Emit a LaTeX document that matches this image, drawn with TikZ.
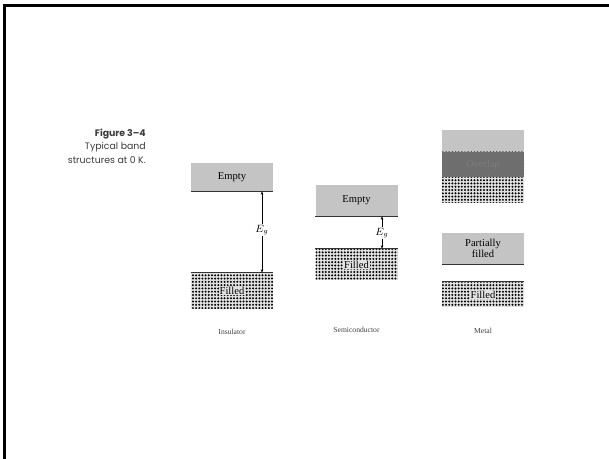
\documentclass[tikz,border=0pt]{standalone}
\usepackage{fontspec}
\setmainfont{Liberation Serif}
\newfontfamily\titlefont{Poppins}
\usetikzlibrary{arrows.meta,patterns.meta}

\definecolor{bandgray}{HTML}{C4C4C4}
\definecolor{overlapgray}{HTML}{6E6E6E}
\definecolor{dotbg}{HTML}{E2E2E2}
\definecolor{titlegray}{HTML}{3A3A3A}

\tikzdeclarepattern{
  name=banddots,
  type=uncolored,
  bottom left={(-1.35pt,-1.4pt)},
  top right={(1.35pt,1.4pt)},
  tile size={(2.7pt,2.8pt)},
  code={\fill (0pt,0pt) circle (0.95pt);}
}

\begin{document}
\begin{tikzpicture}[
      x=0.03cm, y=-0.03cm,
      emptyband/.style={fill=bandgray, minimum width=2.46cm, inner sep=0pt,
        font=\fontsize{9}{9.5}\selectfont, align=center},
      filledband/.style={preaction={fill=dotbg}, pattern=banddots,
        pattern color=black, minimum width=2.46cm, inner sep=0pt},
      dotlabel/.style={fill=dotbg, inner sep=0.6pt, font=\fontsize{9}{10}\selectfont},
      edgeline/.style={line width=1.1pt, black!80},
      gaplabel/.style={fill=white, inner sep=1pt, font=\fontsize{9}{10}\selectfont},
      caption/.style={font=\fontsize{6.5}{7}\selectfont, text=black!75},
      >={Stealth[length=3pt,width=2.2pt]}
    ]
    \useasboundingbox (0,0) rectangle (609,459);
    % frame
    \draw[line width=2.5pt] (4.5,459) -- (4.5,5.5) -- (609,5.5);

    % figure title
    \node[anchor=north east, align=right, inner sep=0pt, text=titlegray,
      font=\titlefont\fontsize{8}{11.3}\selectfont] (title) at (146,129)
      {\textbf{Figure 3–4}\\Typical band\\structures at 0 K.};

    % insulator
    \node[emptyband, minimum height=0.84cm] (ins-empty) at (232,177) {Empty};
    \node[filledband, minimum height=1.08cm] (ins-filled) at (232,291) {};
    \node[dotlabel] (ins-filled-txt) at (ins-filled) {Filled};
    \draw[edgeline] (ins-empty.south west) -- (ins-empty.south east);
    \draw[edgeline] (ins-filled.north west) -- (ins-filled.north east);
    \node[gaplabel] (ins-eg) at (262,230) {$E_g$};
    \draw[->] (ins-eg.north) -- (ins-eg.north |- ins-empty.south);
    \draw[->] (ins-eg.south) -- (ins-eg.south |- ins-filled.north);
    \node[caption] (ins-cap) at (232,332) {Insulator};

    % semiconductor
    \node[emptyband, minimum height=0.93cm] (sc-empty) at (356.5,200.5) {Empty};
    \node[filledband, minimum height=0.93cm] (sc-filled) at (356.5,264.5) {};
    \node[dotlabel] (sc-filled-txt) at (sc-filled) {Filled};
    \draw[edgeline] (sc-empty.south west) -- (sc-empty.south east);
    \draw[edgeline] (sc-filled.north west) -- (sc-filled.north east);
    \node[gaplabel, inner sep=0.5pt] (sc-eg) at (382,233) {$E_g$};
    \draw[->] (sc-eg.north) -- (sc-eg.north |- sc-empty.south);
    \draw[->] (sc-eg.south) -- (sc-eg.south |- sc-filled.north);
    \node[caption] (sc-cap) at (356.5,330) {Semiconductor};

    % metal
    \node[emptyband, minimum height=1.41cm] (mt-upper) at (483,153.5) {};
    \node[filledband, minimum height=1.53cm] (mt-lower) at (483,177.5) {};
    \node[fill=overlapgray, minimum width=2.46cm, minimum height=0.75cm, inner sep=0pt,
      text=gray!80!overlapgray, font=\fontsize{9}{10}\selectfont] (mt-overlap) at (483,164.5) {Overlap};
    \node[emptyband, minimum height=0.93cm] (mt-partial) at (483,248.5) {Partially\\filled};
    \node[filledband, minimum height=0.75cm] (mt-filled) at (483,294.5) {};
    \node[dotlabel] (mt-filled-txt) at (mt-filled) {Filled};
    \draw[edgeline] (mt-partial.south west) -- (mt-partial.south east);
    \draw[edgeline] (mt-filled.north west) -- (mt-filled.north east);
    \node[caption] (mt-cap) at (483,331) {Metal};
  \end{tikzpicture}
\end{document}
